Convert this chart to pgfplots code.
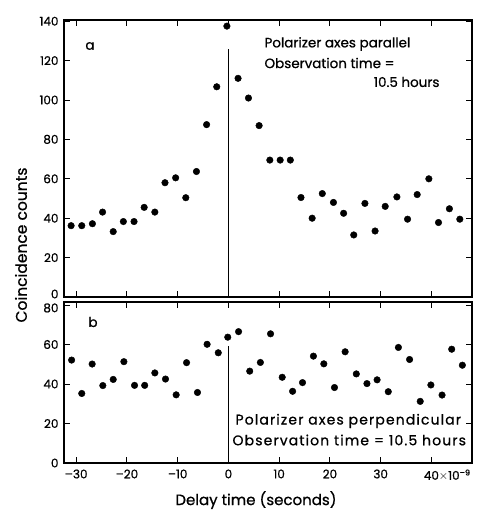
\documentclass[border=0pt]{standalone}
\usepackage{fontspec}
\setmainfont{Poppins}[FakeBold=0.8]
\usepackage{pgfplots}
\usepackage{pgfplotstable}
\pgfplotsset{compat=1.18}

% panel a: polarizer axes parallel
\pgfplotstableread{
x y
-31.0 36.2
-28.9 36.2
-26.8 37.2
-24.8 43.1
-22.7 33.2
-20.7 38.3
-18.6 38.3
-16.6 45.5
-14.5 43.1
-12.5 58.0
-10.4 60.5
-8.4 50.4
-6.3 63.7
-4.3 87.5
-2.3 106.7
-0.3 137.5
1.9 111
3.95 101
6.05 87
8.16 69.5
10.2 69.5
12.2 69.5
14.3 50.5
16.5 40
18.5 52.5
20.7 48
22.7 42.5
24.7 31.5
26.9 47.5
28.9 33.5
30.9 46
33.2 50.8
35.3 39.5
37.2 52
39.5 60
41.4 37.8
43.55 44.8
45.6 39.5
}\datapar

% panel b: polarizer axes perpendicular
\pgfplotstableread{
x y
-30.9 52.1
-28.9 35.2
-26.85 50.1
-24.75 39.2
-22.7 42.3
-20.6 51.3
-18.5 39.3
-16.5 39.3
-14.5 45.6
-12.4 42.5
-10.3 34.5
-8.25 50.8
-6.1 35.7
-4.2 60.1
-2.0 55.8
-0.13 63.7
2.0 66.5
4.2 46.5
6.3 50.9
8.3 65.4
10.6 43.4
12.65 36.3
14.6 40.7
16.75 54.1
18.8 50.2
20.9 38.2
23.0 56.3
25.2 45.1
27.3 40.2
29.3 42.1
31.5 36.1
33.5 58.5
35.7 52.4
37.8 31.2
39.9 39.5
42.1 34.4
44.0 57.6
46.1 49.5
}\dataperp

\pgfplotsset{
  panel/.style={
    scale only axis,
    anchor=north west,
    width=408pt,
    xmin=-32.4, xmax=48,
    xtick={-30,-20,...,40},
    axis line style={line width=1.1pt},
    tick style={line width=0.9pt, black},
    major tick length=6pt,
    tick label style={font=\fontsize{12}{14}\selectfont},
    yticklabel style={xshift=-2pt},
    /pgf/number format/assume math mode=true,
  },
  dots/.style={only marks, mark=*, mark size=3.3pt, black},
}

\begin{document}
\begin{tikzpicture}
\path[use as bounding box] (0,0) rectangle (493pt,-531pt);

\begin{axis}[panel, at={(64pt,-20pt)}, height=277pt,
    ymin=0, ymax=140.6, ytick={20,40,...,140},
    extra y ticks={0},
    extra y tick style={yticklabel style={yshift=3pt}},
    xticklabels={}]
  \addplot[dots] table[x=x, y=y] {\datapar};
  \addplot[black, line width=1.2pt] coordinates {(0,0) (0,126)};
\end{axis}

\begin{axis}[panel, at={(64pt,-302pt)}, height=161pt,
    ymin=0, ymax=81.5, ytick={0,20,...,60},
    extra y ticks={80},
    extra y tick style={yticklabel style={yshift=-3pt}},
    xticklabels={--30,--20,--10,0,10,20,30,{40\rlap{$\times$10\textsuperscript{--9}}}},
    xticklabel style={yshift=-3pt}]
  \addplot[dots] table[x=x, y=y] {\dataperp};
  \addplot[black, line width=1.2pt] coordinates {(0,0) (0,59)};
\end{axis}

\begin{scope}[font=\fontsize{13.5}{15}\selectfont]
  \node at (90pt,-46pt) {a};
  \node at (93pt,-322pt) {b};
  \node[anchor=west] at (261pt,-44pt) {Polarizer axes parallel};
  \node[anchor=west] at (261pt,-63pt) {Observation time =};
  \node[anchor=east] at (443pt,-82pt) {10.5 hours};
\end{scope}
\begin{scope}[font=\fontsize{14}{16}\selectfont\addfontfeatures{LetterSpace=8}]
  \node[anchor=west] at (232pt,-421pt) {Polarizer axes perpendicular};
  \node[anchor=west] at (229pt,-440pt) {Observation time = 10.5 hours};
\end{scope}

\node[rotate=90, font=\fontsize{15.5}{17}\selectfont] at (21pt,-245pt) {Coincidence counts};
\node[font=\fontsize{15}{17}\selectfont] at (256pt,-500pt) {Delay time (seconds)};
\end{tikzpicture}
\end{document}
